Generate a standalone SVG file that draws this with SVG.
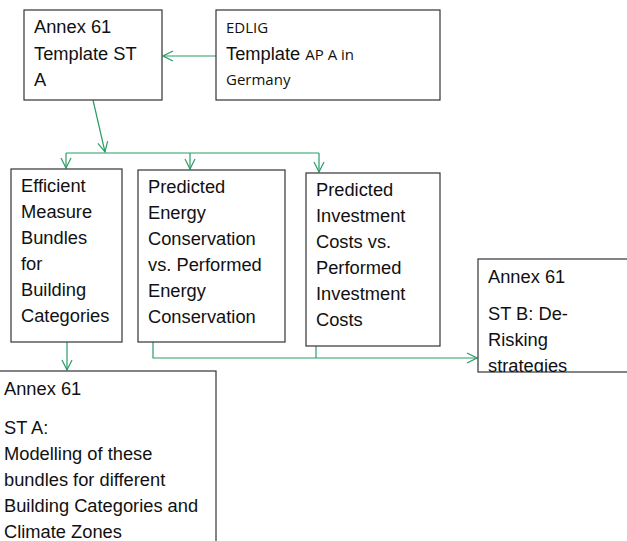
<svg xmlns="http://www.w3.org/2000/svg" width="627" height="541" viewBox="0 0 627 541">
<style>
.box{fill:#fff;stroke:#333;stroke-width:1.2}
.t{font-family:"Liberation Sans",Arial,sans-serif;font-size:18.3px;fill:#111}
.s{font-family:"Open Sans","Liberation Sans",sans-serif;font-size:15px;fill:#111}
.c{fill:none;stroke:#2a9d66;stroke-width:1.2}
</style>
<defs>
<marker id="ah" viewBox="0 0 12 12" refX="11" refY="6" markerWidth="12" markerHeight="12" markerUnits="userSpaceOnUse" orient="auto">
<path d="M1,1 L11,6 L1,11" fill="none" stroke="#2a9d66" stroke-width="1.2"/>
</marker>
<clipPath id="clipB"><rect x="478" y="259" width="149" height="113"/></clipPath>
</defs>
<g id="connectors">
<path class="c" d="M216,56 H163" marker-end="url(#ah)"/>
<path class="c" d="M93,100 L105,152" marker-end="url(#ah)"/>
<path class="c" d="M66,153 H319"/>
<path class="c" d="M66,153 V168" marker-end="url(#ah)"/>
<path class="c" d="M190,153 V169" marker-end="url(#ah)"/>
<path class="c" d="M319,153 V172" marker-end="url(#ah)"/>
<path class="c" d="M67,342 V370" marker-end="url(#ah)"/>
<path class="c" d="M153,342 V358 H477" marker-end="url(#ah)"/>
<path class="c" d="M316,346 V358"/>
</g>
<g id="n1">
<rect class="box" x="24" y="10" width="138" height="90"/>
<text class="t" x="34" y="33">Annex 61</text>
<text class="t" x="34" y="60">Template ST</text>
<text class="t" x="34" y="86">A</text>
</g>
<g id="n2">
<rect class="box" x="216" y="10" width="224" height="90"/>
<text class="s" x="226" y="33">EDLIG</text>
<text x="226" y="60"><tspan class="t">Template </tspan><tspan class="s">AP A in</tspan></text>
<text class="s" x="226" y="85">Germany</text>
</g>
<g id="n3">
<rect class="box" x="11" y="169" width="111" height="173"/>
<text class="t" x="21" y="192">Efficient</text>
<text class="t" x="21" y="218">Measure</text>
<text class="t" x="21" y="244">Bundles</text>
<text class="t" x="21" y="270">for</text>
<text class="t" x="21" y="296">Building</text>
<text class="t" x="21" y="322">Categories</text>
</g>
<g id="n4">
<rect class="box" x="138" y="170" width="147" height="172"/>
<text class="t" x="148" y="193">Predicted</text>
<text class="t" x="148" y="219">Energy</text>
<text class="t" x="148" y="245">Conservation</text>
<text class="t" x="148" y="271">vs. Performed</text>
<text class="t" x="148" y="297">Energy</text>
<text class="t" x="148" y="323">Conservation</text>
</g>
<g id="n5">
<rect class="box" x="306" y="173" width="134" height="173"/>
<text class="t" x="316" y="196">Predicted</text>
<text class="t" x="316" y="222">Investment</text>
<text class="t" x="316" y="248">Costs vs.</text>
<text class="t" x="316" y="274">Performed</text>
<text class="t" x="316" y="300">Investment</text>
<text class="t" x="316" y="326">Costs</text>
</g>
<g id="n6">
<rect class="box" x="478" y="259" width="160" height="113"/>
<g clip-path="url(#clipB)">
<text class="t" x="488" y="283">Annex 61</text>
<text class="t" x="488" y="320">ST B: De-</text>
<text class="t" x="488" y="346">Risking</text>
<text class="t" x="488" y="372">strategies</text>
</g>
</g>
<g id="n7">
<rect class="box" x="-1" y="371" width="217" height="200"/>
<text class="t" x="4" y="395">Annex 61</text>
<text class="t" x="4" y="434">ST A:</text>
<text class="t" x="4" y="460">Modelling of these</text>
<text class="t" x="4" y="486">bundles for different</text>
<text class="t" x="4" y="512">Building Categories and</text>
<text class="t" x="4" y="538">Climate Zones</text>
</g>
</svg>
